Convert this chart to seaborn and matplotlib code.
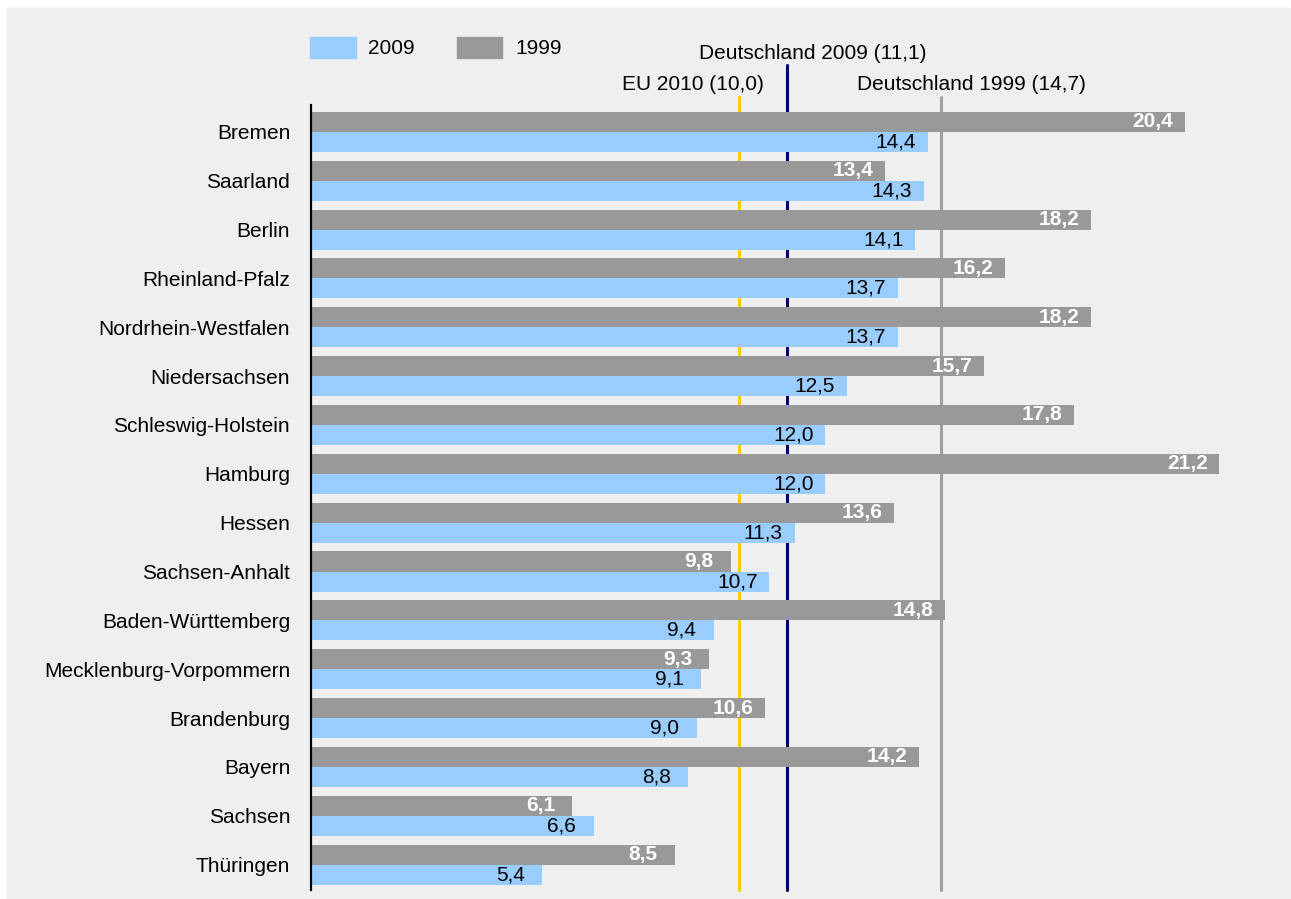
import numpy as np
import pandas as pd
import matplotlib
matplotlib.use('Agg')
import matplotlib.pyplot as plt
import seaborn as sns
from matplotlib.patches import Patch, Rectangle

# data (top to bottom)
laender = ['Bremen', 'Saarland', 'Berlin', 'Rheinland-Pfalz', 'Nordrhein-Westfalen',
           'Niedersachsen', 'Schleswig-Holstein', 'Hamburg', 'Hessen', 'Sachsen-Anhalt',
           'Baden-Württemberg', 'Mecklenburg-Vorpommern', 'Brandenburg', 'Bayern',
           'Sachsen', 'Thüringen']
werte_2009 = [14.4, 14.3, 14.1, 13.7, 13.7, 12.5, 12.0, 12.0, 11.3, 10.7, 9.4, 9.1, 9.0, 8.8, 6.6, 5.4]
werte_1999 = [20.4, 13.4, 18.2, 16.2, 18.2, 15.7, 17.8, 21.2, 13.6, 9.8, 14.8, 9.3, 10.6, 14.2, 6.1, 8.5]

ref_names = ['EU 2010 (10,0)', 'Deutschland 2009 (11,1)', 'Deutschland 1999 (14,7)']
ref_values = [10.0, 11.1, 14.7]

BLUE = '#99ccff'
GRAY = '#999999'
BG = '#efefef'

sns.set_style('white')
plt.rcParams['font.family'] = ['Liberation Sans', 'DejaVu Sans']
plt.rcParams['font.size'] = 15
plt.rcParams['text.color'] = 'black'
plt.rcParams['ytick.color'] = 'black'

df = pd.DataFrame({
    'Land': laender * 2,
    'Wert': werte_1999 + werte_2009,
    'Jahr': ['1999'] * len(laender) + ['2009'] * len(laender),
})

fig = plt.figure(figsize=(12.91, 8.99), dpi=100, facecolor='white')
fig.patches.append(Rectangle((7 / 1291, 1 / 899), 1283 / 1291, 890 / 899,
                             transform=fig.transFigure, color=BG, zorder=-10))

W, H = 1291, 899
left, top, bottom, right = 311, 105, 890, 1275
ax = fig.add_axes([left / W, 1 - bottom / H, (right - left) / W, (bottom - top) / H])
ax.set_facecolor('none')

sns.barplot(data=df, y='Land', x='Wert', hue='Jahr', hue_order=['1999', '2009'],
            palette={'1999': GRAY, '2009': BLUE}, width=0.82, dodge=True,
            saturation=1, legend=False, linewidth=0, ax=ax, zorder=2)

ax.set_xlim(0, 22.5)
ax.set_ylim(15.52, -0.55)

# reference lines
line_cols = ['#ffcc00', '#000066', '#a0a0a0']
line_tops = [1.0102, 1.051, 1.0102]
label_dx = [-1.08, 0.6, 0.72]
label_y = [1.0255, 1.0662, 1.0255]
for name, val, c, t, dx, ly in zip(ref_names, ref_values, line_cols, line_tops, label_dx, label_y):
    ax.axvline(val, ymin=0, ymax=t, color=c, lw=2.2, zorder=1, clip_on=False)
    ax.text(val + dx, ly, name, transform=ax.get_xaxis_transform(), ha='center', va='center',
            fontsize=15, color='black')

# value labels
def fmt(v):
    return f'{v:.1f}'.replace('.', ',')

for i, (a, b) in enumerate(zip(werte_1999, werte_2009)):
    ax.annotate(fmt(a), (a, i - 0.205), xytext=(-23, 0), textcoords='offset points',
                ha='center', va='center', color='white', fontweight='bold', fontsize=15, zorder=5)
    ax.annotate(fmt(b), (b, i + 0.205), xytext=(-23, 0), textcoords='offset points',
                ha='center', va='center', color='black', fontsize=15, zorder=5)

ax.set_xlabel('')
ax.set_ylabel('')
ax.set_xticks([])
ax.tick_params(axis='y', length=0, pad=15, labelsize=15, labelcolor='black')
for s in ['top', 'right', 'bottom']:
    ax.spines[s].set_visible(False)
ax.spines['left'].set_color('black')
ax.spines['left'].set_linewidth(1.6)

handles = [Patch(color=BLUE, label='2009'), Patch(color=GRAY, label='1999')]
leg = fig.legend(handles=handles, loc='upper left', bbox_to_anchor=(310 / W, 1 - 37 / H),
                 ncol=2, frameon=False, fontsize=15, handlelength=2.2, handleheight=1.15,
                 handletextpad=0.6, columnspacing=2.0, borderpad=0, borderaxespad=0)
for t in leg.get_texts():
    t.set_color('black')

fig.savefig('out.png', dpi=100, facecolor='white')
